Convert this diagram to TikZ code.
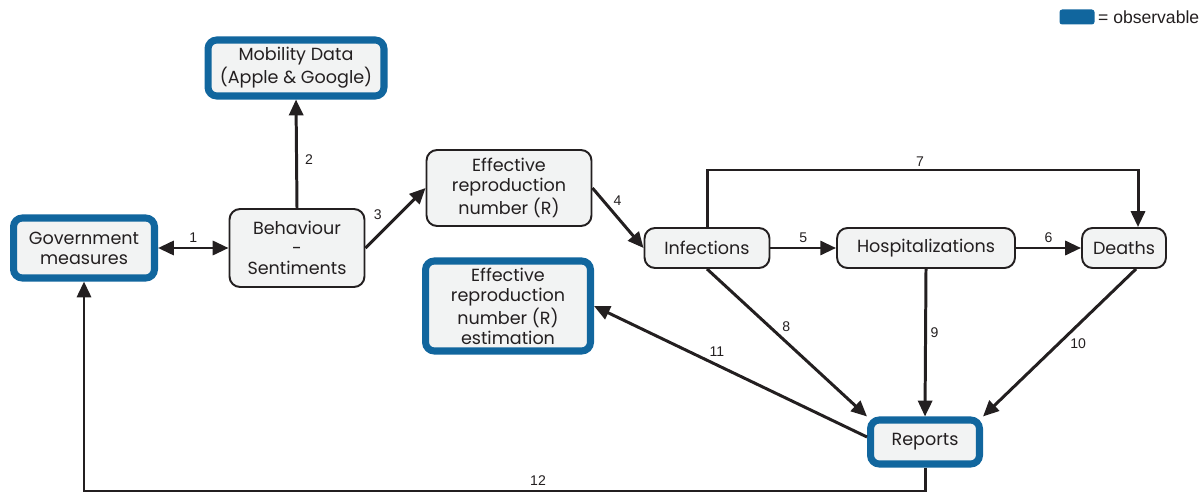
\documentclass[tikz,border=0pt]{standalone}
\usepackage{fontspec}
\setmainfont{Poppins}
\newfontfamily\lblfont{Liberation Sans}
\usetikzlibrary{arrows.meta}
\definecolor{obsblue}{RGB}{17,102,158}
\definecolor{boxgrey}{RGB}{242,243,243}
\definecolor{ink}{RGB}{35,31,32}
\begin{document}
\begin{tikzpicture}[x=0.02cm,y=-0.02cm,
  box/.style={draw=ink, line width=1.1pt, fill=boxgrey, rounded corners=6pt, align=center, inner sep=0pt, text=ink, font=\fontsize{10}{11.5}\selectfont},
  obs/.style={box, draw=obsblue, line width=4pt, rounded corners=5pt},
  arr/.style={draw=ink, line width=1.7pt, -{Triangle[length=9pt,width=8pt]}},
  lbl/.style={font=\lblfont\fontsize{8}{9}\selectfont, text=ink, inner sep=1pt}]
\useasboundingbox (0,0) rectangle (1202,493);
% nodes
\node[obs, minimum width=2.82cm, minimum height=1.2cm] (gov) at (84,248) {Government\\measures};
\node[box, minimum width=2.7cm, minimum height=1.56cm] (beh) at (297,248) {Behaviour\\-\\Sentiments};
\node[obs, minimum width=3.52cm, minimum height=1.12cm] (mob) at (296,68) {Mobility Data\\(Apple \& Google)};
\node[box, minimum width=3.3cm, minimum height=1.52cm] (effr) at (509,188) {Effective\\reproduction\\number (R)};
\node[box, minimum width=2.5cm, minimum height=0.8cm] (inf) at (707,248) {Infections};
\node[box, minimum width=3.56cm, minimum height=0.8cm] (hosp) at (926,248) {Hospitalizations};
\node[box, minimum width=1.68cm, minimum height=0.8cm] (dead) at (1124,248) {Deaths};
\node[obs, minimum width=3.3cm, minimum height=1.8cm] (est) at (508,306) {Effective\\reproduction\\number (R)\\estimation};
\node[obs, minimum width=2.18cm, minimum height=0.88cm] (rep) at (925,442) {Reports};
% legend
\node[fill=obsblue, rounded corners=1.5pt, minimum width=0.7cm, minimum height=0.3cm, inner sep=0pt] (key) at (1077,17) {};
\node[font=\lblfont\fontsize{10}{12}\selectfont, text=ink, anchor=west, inner sep=1pt] (keytxt) at (1096,17) {= observable};
\coordinate (c7) at (920,170);
\coordinate (c12) at (538,491);
% edges
\draw[arr, {Triangle[length=9pt,width=8pt]}-{Triangle[length=9pt,width=8pt]}](gov.east) -- node[lbl, above=1pt]{1} (beh.west);
\draw[arr](beh.north) -- node[lbl, pos=0.45, right=3pt]{2} (mob.south);
\draw[arr](beh.east) -- node[lbl, left=6pt, yshift=2pt]{3} (effr.west);
\draw[arr](effr.east) -- node[lbl, pos=0.35, above right=0pt]{4} (inf.west);
\draw[arr](inf.east) -- node[lbl, above=1pt]{5} (hosp.west);
\draw[arr](hosp.east) -- node[lbl, above=1pt]{6} (dead.west);
\draw[arr](inf.north) |- (c7) -| ([xshift=0.28cm]dead.north);
\node[lbl, above=1pt] (l7) at (c7) {7};
\draw[arr](inf.south) -- node[lbl, pos=0.45, above right=0pt]{8} (rep.north west);
\draw[arr](hosp.south) -- node[lbl, pos=0.43, right=1pt]{9} (rep.north);
\draw[arr]([xshift=0.24cm]dead.south) -- node[lbl, pos=0.45, below right=0pt]{10} (rep.north east);
\draw[arr]([yshift=0.1cm]rep.west) -- node[lbl, pos=0.55, above=3pt]{11} (est.east);
\draw[arr](rep.south) |- (c12) -| (gov.south);
\node[lbl, above=2pt] (l12) at (c12) {12};
\end{tikzpicture}
\end{document}
